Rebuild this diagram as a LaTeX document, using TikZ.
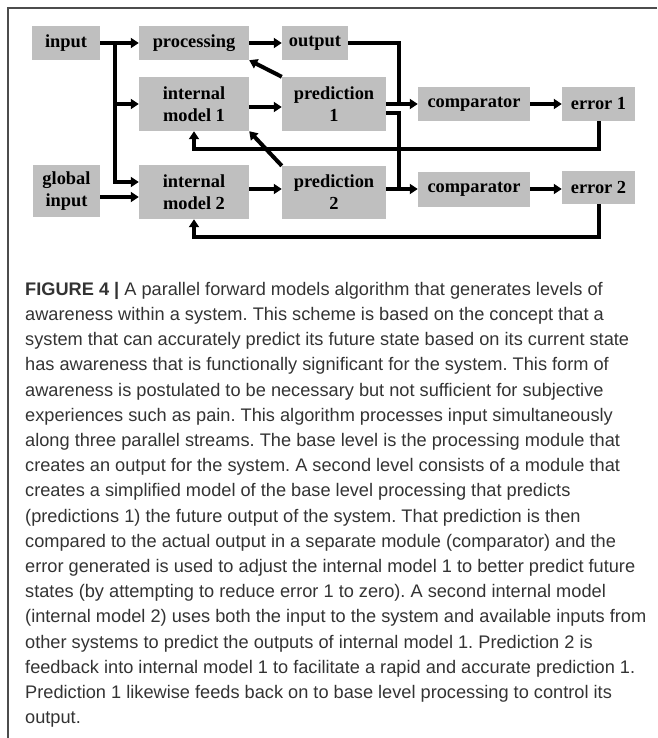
\documentclass[tikz,border=0pt]{standalone}
\usepackage{fontspec}
\setmainfont{Liberation Serif}
\newfontfamily\capfont{Liberation Sans}
\usetikzlibrary{arrows.meta}
\definecolor{boxgray}{RGB}{191,191,191}
\frenchspacing
\begin{document}
\begin{tikzpicture}[x=1pt,y=-1pt,
  box/.style={fill=boxgray, inner sep=0pt, align=center,
    font=\fontsize{18.4}{22}\selectfont\bfseries},
  conn/.style={line width=4pt},
  arr/.style={conn, -{Triangle[length=8pt,width=10pt]}},
  frame/.style={black!70, line width=1.5pt}
]
\useasboundingbox (0,0) rectangle (657,738);
\draw[frame] (657,8) -- (8,8) -- (8,738);

% nodes
\node[box, minimum width=68pt,  minimum height=34pt] (input)  at (66,43)    {input};
\node[box, minimum width=110pt, minimum height=34pt] (proc)   at (194,43)   {processing};
\node[box, minimum width=66pt,  minimum height=34pt] (output) at (315,43)   {output};
\node[box, minimum width=110pt, minimum height=54pt] (im1)    at (194,104)  {internal\\model 1};
\node[box, minimum width=104pt, minimum height=54pt] (pred1)  at (334,104)  {prediction\\1};
\node[box, minimum width=112pt, minimum height=34pt] (comp1)  at (474,104)  {comparator};
\node[box, minimum width=73pt,  minimum height=34pt] (err1)   at (598.5,104){error 1};
\node[box, minimum width=67pt,  minimum height=52pt] (global) at (66.5,191) {global\\input};
\node[box, minimum width=110pt, minimum height=54pt] (im2)    at (194,192)  {internal\\model 2};
\node[box, minimum width=104pt, minimum height=53pt] (pred2)  at (334,192.5){prediction\\2};
\node[box, minimum width=112pt, minimum height=35pt] (comp2)  at (474,189.5){comparator};
\node[box, minimum width=73pt,  minimum height=33pt] (err2)   at (598.5,187.5){error 2};

% helper coordinates
\coordinate (bx) at (115,43);
\coordinate (jx) at (399,0);
\coordinate (ya) at (0,197);
\coordinate (yb) at (0,182);
\coordinate (y107) at (0,107);
\coordinate (y113) at (0,113);
\coordinate (y149) at (0,149);
\coordinate (y189) at (0,189);
\coordinate (y237) at (0,237);

% connectors
\draw[arr] (input.east) -- (proc.west);
\draw[arr] (bx) |- (im2.west |- yb);
\draw[arr] (bx |- im1.west) -- (im1.west);
\draw[arr] (global.east |- ya) -- (im2.west |- ya);
\draw[arr] (proc.east) -- (output.west);
\draw[arr] (im1.east |- y107) -- (pred1.west |- y107);
\draw[arr] (im2.east |- y189) -- (pred2.west |- y189);
\draw[arr] (pred1.north west) -- (proc.south east);
\draw[arr] (pred2.north west) -- (im1.south east);
\draw[conn] (output.east) -- (jx |- output.east) -- (jx |- pred1.east);
\draw[arr] (pred1.east) -- (comp1.west);
\draw[conn] (pred1.east |- y113) -- (jx |- y113) -- (jx |- y189);
\draw[arr] (pred2.east |- y189) -- (comp2.west |- y189);
\draw[arr] (comp1.east) -- (err1.west);
\draw[arr] (comp2.east |- y189) -- (err2.west |- y189);
\draw[arr] (err1.south) -- (err1.south |- y149) -| (im1.south);
\draw[arr] (err2.south) -- (err2.south |- y237) -| (im2.south);

% caption
\node[anchor=north west, inner sep=0pt, align=left, text=black!80,
  font=\capfont\fontsize{18.2}{25.2}\selectfont] (caption) at (25,282) {%
\textbf{FIGURE 4 |} A parallel forward models algorithm that generates levels of\\
awareness within a system. This scheme is based on the concept that a\\
system that can accurately predict its future state based on its current state\\
has awareness that is functionally significant for the system. This form of\\
awareness is postulated to be necessary but not sufficient for subjective\\
experiences such as pain. This algorithm processes input simultaneously\\
along three parallel streams. The base level is the processing module that\\
creates an output for the system. A second level consists of a module that\\
creates a simplified model of the base level processing that predicts\\
(predictions 1) the future output of the system. That prediction is then\\
compared to the actual output in a separate module (comparator) and the\\
error generated is used to adjust the internal model 1 to better predict future\\
states (by attempting to reduce error 1 to zero). A second internal model\\
(internal model 2) uses both the input to the system and available inputs from\\
other systems to predict the outputs of internal model 1. Prediction 2 is\\
feedback into internal model 1 to facilitate a rapid and accurate prediction 1.\\
Prediction 1 likewise feeds back on to base level processing to control its\\
output.};
\end{tikzpicture}
\end{document}
